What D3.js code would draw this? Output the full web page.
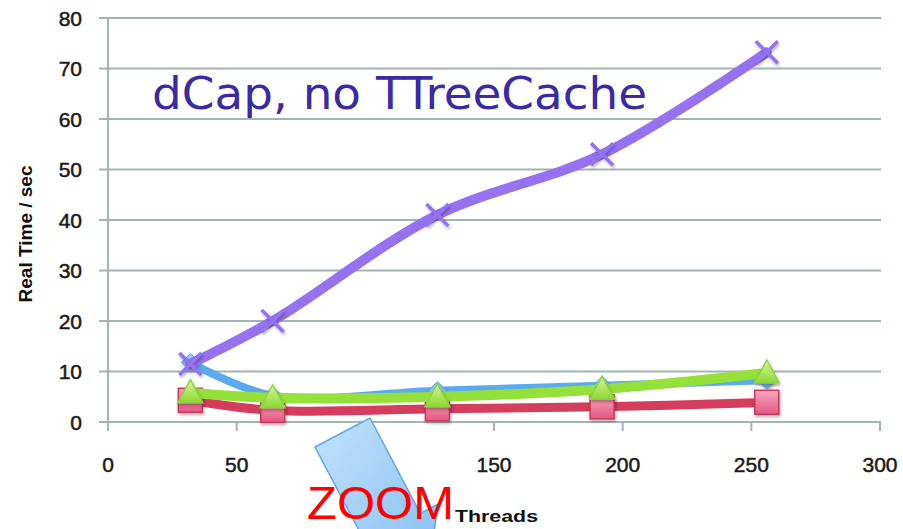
<!DOCTYPE html>
<html>
<head>
<meta charset="utf-8">
<script src="https://cdn.jsdelivr.net/npm/d3@7"></script>
<style>
  html, body { margin: 0; padding: 0; background: #ffffff; }
  svg { display: block; }
</style>
</head>
<body>
<svg id="chart" width="903" height="529"></svg>
<script>
// ---- data ----
const threads = [32, 64, 128, 192, 256];
const purpleVals = [11.5, 20, 41, 53, 73.2];
const blueVals = [11.8, 5.2, 6.2, 7.2, 8.3];
const redVals = [4.3, 2.3, 2.6, 3.0, 3.9];
const greenVals = [5.8, 4.8, 5.0, 6.5, 9.7];
const xTicks = [0, 50, 100, 150, 200, 250, 300];
const yTicks = [0, 10, 20, 30, 40, 50, 60, 70, 80];
const titleText = "dCap, no TTreeCache";
const xLabel = "Threads";
const yLabel = "Real Time / sec";
const zoomText = "ZOOM";

const svg = d3.select("#chart");
const x = d3.scaleLinear().domain([0, 300]).range([108, 880]);
const y = d3.scaleLinear().domain([0, 80]).range([422, 18]);
const gridColor = "#a3b4b2";
const tickFont = "'Liberation Sans', Arial, sans-serif";

// defs
const defs = svg.append("defs");
const gRed = defs.append("linearGradient").attr("id", "gRed").attr("x1", 0).attr("y1", 0).attr("x2", 0).attr("y2", 1);
gRed.append("stop").attr("offset", "0%").attr("stop-color", "#fba6c2");
gRed.append("stop").attr("offset", "100%").attr("stop-color", "#e2577f");
const gGreen = defs.append("linearGradient").attr("id", "gGreen").attr("x1", 0).attr("y1", 0).attr("x2", 0).attr("y2", 1);
gGreen.append("stop").attr("offset", "0%").attr("stop-color", "#d6f59a");
gGreen.append("stop").attr("offset", "100%").attr("stop-color", "#8cd834");
const gBlue = defs.append("linearGradient").attr("id", "gBlue").attr("x1", 0).attr("y1", 0).attr("x2", 0).attr("y2", 1);
gBlue.append("stop").attr("offset", "0%").attr("stop-color", "#9fd2fb");
gBlue.append("stop").attr("offset", "100%").attr("stop-color", "#5caef2");
const gArrow = defs.append("linearGradient").attr("id", "gArrow").attr("x1", 0).attr("y1", 0).attr("x2", 1).attr("y2", 1);
gArrow.append("stop").attr("offset", "0%").attr("stop-color", "#c4e2fc");
gArrow.append("stop").attr("offset", "100%").attr("stop-color", "#7fbdf2");
const shadow = defs.append("filter").attr("id", "shadow").attr("x", "-50%").attr("y", "-50%").attr("width", "200%").attr("height", "200%");
shadow.append("feDropShadow").attr("dx", 1).attr("dy", 2).attr("stdDeviation", 1.5).attr("flood-color", "#000").attr("flood-opacity", 0.3);

// gridlines (with left tick stubs)
svg.append("g").selectAll("line").data(yTicks).join("line")
  .attr("x1", 99).attr("x2", x(300) + 1)
  .attr("y1", d => y(d)).attr("y2", d => y(d))
  .attr("stroke", gridColor).attr("stroke-width", 2);

// y axis line
svg.append("line").attr("x1", x(0)).attr("x2", x(0)).attr("y1", y(80)).attr("y2", y(0))
  .attr("stroke", gridColor).attr("stroke-width", 2);

// x ticks
svg.append("g").selectAll("line").data(xTicks).join("line")
  .attr("x1", d => x(d)).attr("x2", d => x(d))
  .attr("y1", y(0)).attr("y2", y(0) + 9)
  .attr("stroke", gridColor).attr("stroke-width", 2);

// tick labels
svg.append("g").selectAll("text").data(yTicks).join("text")
  .attr("x", 82).attr("y", d => y(d)).attr("dy", "0.36em")
  .attr("text-anchor", "end")
  .attr("font-family", tickFont).attr("font-size", 21).attr("fill", "#1a1a1a")
  .attr("stroke", "#1a1a1a").attr("stroke-width", 0.5)
  .text(d => d);
svg.append("g").selectAll("text").data(xTicks).join("text")
  .attr("x", d => x(d)).attr("y", 464).attr("dy", "0.36em")
  .attr("text-anchor", "middle")
  .attr("font-family", tickFont).attr("font-size", 21).attr("fill", "#1a1a1a")
  .attr("stroke", "#1a1a1a").attr("stroke-width", 0.5)
  .text(d => d);

// axis titles
svg.append("text")
  .attr("transform", "translate(32,234) rotate(-90)")
  .attr("text-anchor", "middle")
  .attr("font-family", tickFont).attr("font-weight", "bold").attr("font-size", 19).attr("fill", "#111")
  .text(yLabel);

// series
const line = d3.line().x(d => x(d[0])).y(d => y(d[1])).curve(d3.curveCatmullRom.alpha(0.5));
const zip = vals => threads.map((t, i) => [t, vals[i]]);

const plot = svg.append("g");

function drawLine(vals, color, w) {
  plot.append("path").datum(zip(vals)).attr("d", line)
    .attr("fill", "none").attr("stroke", color).attr("stroke-width", w)
    .attr("stroke-linecap", "round").attr("stroke-linejoin", "round");
}

// blue
drawLine(blueVals, "#5aaaf0", 8);
plot.append("g").selectAll("path").data(zip(blueVals)).join("path")
  .attr("transform", d => `translate(${x(d[0])},${y(d[1])})`)
  .attr("d", "M0,-9 L9,0 L0,9 L-9,0 Z")
  .attr("fill", "url(#gBlue)").attr("stroke", "#4f9be6").attr("stroke-width", 1)
  .attr("filter", "url(#shadow)");

// red
drawLine(redVals, "#d43d5e", 9);
plot.append("g").selectAll("rect").data(zip(redVals)).join("rect")
  .attr("x", d => x(d[0]) - 12).attr("y", d => y(d[1]) - 12)
  .attr("width", 24).attr("height", 24)
  .attr("fill", "url(#gRed)").attr("stroke", "#c9385a").attr("stroke-width", 1.5)
  .attr("filter", "url(#shadow)");

// green
drawLine(greenVals, "#96e03c", 10);
plot.append("g").selectAll("path").data(zip(greenVals)).join("path")
  .attr("transform", d => `translate(${x(d[0])},${y(d[1])})`)
  .attr("d", "M0,-13 L12.5,10 L-12.5,10 Z")
  .attr("fill", "url(#gGreen)").attr("stroke", "#8bd43c").attr("stroke-width", 1.5)
  .attr("filter", "url(#shadow)");

// purple
drawLine(purpleVals, "#9472f0", 10);
plot.append("g").selectAll("path").data(zip(purpleVals)).join("path")
  .attr("transform", d => `translate(${x(d[0])},${y(d[1])})`)
  .attr("d", "M-11,-11 L11,11 M-11,11 L11,-11")
  .attr("fill", "none").attr("stroke", "#9472f0").attr("stroke-width", 3.5)
  .attr("filter", "url(#shadow)");

// title annotation
svg.append("text")
  .attr("x", 152).attr("y", 109)
  .attr("font-family", "'DejaVu Sans', Verdana, sans-serif").attr("font-size", 45)
  .attr("fill", "#3a2aa6")
  .attr("textLength", 495).attr("lengthAdjust", "spacingAndGlyphs")
  .text(titleText);

// zoom arrow (block arrow pointing down-right)
(function () {
  const ax = 315, ay = 447, bx = 370, by = 418;
  const len = Math.hypot(bx - ax, by - ay);
  const ux = (bx - ax) / len, uy = (by - ay) / len;   // across
  const dx = -uy, dy = ux;                             // along (down-right)
  const body = 108, flare = 20, head = 70;
  const p = (px, py) => [px, py];
  const A = p(ax, ay), B = p(bx, by);
  const B2 = p(bx + dx * body, by + dy * body);
  const A2 = p(ax + dx * body, ay + dy * body);
  const Bf = p(B2[0] + ux * flare, B2[1] + uy * flare);
  const Af = p(A2[0] - ux * flare, A2[1] - uy * flare);
  const mx = (ax + bx) / 2, my = (ay + by) / 2;
  const T = p(mx + dx * (body + head), my + dy * (body + head));
  const pts = [A, B, B2, Bf, T, Af, A2];
  svg.append("path")
    .attr("d", "M" + pts.map(q => q.join(",")).join("L") + "Z")
    .attr("fill", "url(#gArrow)").attr("stroke", "#62a6ea").attr("stroke-width", 1.5);
})();

// ZOOM text
svg.append("text")
  .attr("x", 307).attr("y", 519)
  .attr("font-family", tickFont).attr("font-size", 46).attr("fill", "#ff0000")
  .attr("textLength", 147).attr("lengthAdjust", "spacingAndGlyphs")
  .text(zoomText);

// x axis title
svg.append("text")
  .attr("x", 455).attr("y", 522)
  .attr("font-family", tickFont).attr("font-weight", "bold").attr("font-size", 17).attr("fill", "#111")
  .attr("textLength", 83).attr("lengthAdjust", "spacingAndGlyphs")
  .text(xLabel);
</script>
</body>
</html>
